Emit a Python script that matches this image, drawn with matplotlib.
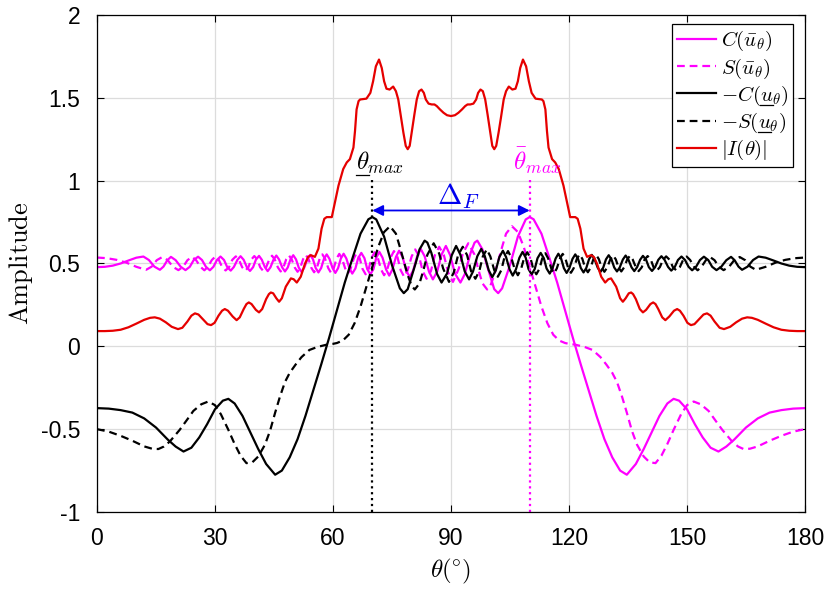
import numpy as np
import matplotlib
matplotlib.use("Agg")
import matplotlib.pyplot as plt
from matplotlib.lines import Line2D

plt.rcParams['font.family'] = ['Liberation Sans', 'DejaVu Sans']
plt.rcParams['mathtext.fontset'] = 'cm'

# -C(u_theta) (black solid)
theta_c = [0, 3, 6, 9, 12, 15, 18, 20, 22, 24,
           26, 28, 30, 32, 33.4, 35, 37, 39, 41, 43,
           45.3, 47, 49, 51, 53, 55, 57, 59, 61, 63,
           65, 67, 69, 70, 71, 73, 75, 77, 78, 79,
           81, 82, 83.3, 84, 85, 86.5, 87.6, 89, 90.2,
           91.3, 92.4, 93.5, 94.6, 95.6, 96.7, 97.7, 98.6, 99.6, 100.5,
           101.4, 102.3, 103.2, 104.0, 104.9, 105.7, 106.5, 107.4, 108.2, 109.0,
           109.7, 110.5, 111.3, 112.0, 112.8, 113.6, 114.3, 115.1, 115.8, 116.6,
           117.3, 118.0, 118.7, 119.4, 120.1, 120.9, 121.6, 122.3, 123.0, 123.7,
           124.4, 125.1, 125.8, 126.5, 127.3, 128.0, 128.7, 129.4, 130.1, 130.8,
           131.5, 132.2, 132.9, 133.7, 134.4, 135.1, 135.9, 136.6, 137.3, 138.1,
           138.8, 139.6, 140.3, 141.1, 141.9, 142.7, 143.5, 144.3, 145.2, 146.0,
           146.9, 147.7, 148.6, 149.5, 150.4, 151.3, 152.3, 153.3, 154.3, 155.4,
           156.4, 157.5, 158.7, 160.0, 161.2, 162.1, 163.1, 164.0, 165.4, 166.8,
           168.2, 170, 172, 174, 176, 178, 180]
c_under = [-0.373, -0.376, -0.385, -0.40, -0.435, -0.49, -0.563, -0.605, -0.635, -0.612,
           -0.55, -0.47, -0.38, -0.328, -0.317, -0.345, -0.42, -0.52, -0.62, -0.71,
           -0.775, -0.75, -0.67, -0.56, -0.42, -0.265, -0.11, 0.05, 0.217, 0.385,
           0.535, 0.68, 0.767, 0.78, 0.766, 0.662, 0.49, 0.35, 0.321, 0.345,
           0.50, 0.585, 0.638, 0.626, 0.565, 0.435, 0.385, 0.44, 0.55,
           0.606, 0.553, 0.452, 0.404, 0.452, 0.544, 0.588, 0.544, 0.459, 0.418,
           0.459, 0.539, 0.577, 0.539, 0.464, 0.427, 0.464, 0.535, 0.570, 0.535,
           0.467, 0.434, 0.467, 0.532, 0.564, 0.532, 0.470, 0.439, 0.470, 0.530,
           0.559, 0.530, 0.472, 0.443, 0.472, 0.528, 0.555, 0.528, 0.473, 0.446,
           0.473, 0.526, 0.552, 0.526, 0.475, 0.449, 0.475, 0.525, 0.550, 0.525,
           0.476, 0.452, 0.476, 0.524, 0.548, 0.524, 0.477, 0.454, 0.477, 0.523,
           0.546, 0.523, 0.478, 0.455, 0.478, 0.522, 0.544, 0.522, 0.479, 0.457,
           0.479, 0.521, 0.542, 0.521, 0.480, 0.459, 0.480, 0.521, 0.541, 0.521,
           0.480, 0.460, 0.480, 0.520, 0.540, 0.520, 0.481, 0.462, 0.481, 0.521,
           0.542, 0.535, 0.518, 0.500, 0.487, 0.480, 0.478]

# -S(u_theta) (black dashed)
theta_s = [0, 3, 6, 9, 12, 14, 15.6, 17, 18.5, 21,
           23, 24.5, 26.5, 28.3, 30, 31.5, 33.4, 35, 36.5, 38,
           39.5, 41, 42.7, 44, 45.3, 46.5, 47.8, 49, 50.5, 52,
           54, 56, 58.4, 60, 61, 62.5, 64, 65.5, 67, 68.5,
           70, 71.5, 73, 74.5, 76, 77, 78, 79, 80, 80.8,
           82, 83, 84, 85.6, 87, 88, 89.5, 90.7, 91.8,
           93.0, 94.1, 95.1, 96.2, 97.2, 98.1, 99.1, 100.0, 101.0, 101.9,
           102.8, 103.6, 104.5, 105.3, 106.2, 107.0, 107.8, 108.6, 109.4, 110.2,
           110.9, 111.7, 112.5, 113.2, 114.0, 114.7, 115.5, 116.2, 116.9, 117.7,
           118.4, 119.1, 119.8, 120.5, 121.2, 122.0, 122.7, 123.4, 124.1, 124.8,
           125.5, 126.2, 126.9, 127.6, 128.3, 129.0, 129.7, 130.5, 131.2, 131.9,
           132.6, 133.3, 134.0, 134.8, 135.5, 136.2, 137.0, 137.7, 138.5, 139.2,
           140.0, 140.8, 141.5, 142.3, 143.1, 143.9, 144.7, 145.6, 146.4, 147.3,
           148.2, 149.0, 149.9, 150.8, 151.8, 152.7, 153.7, 154.8, 155.8, 157.0,
           158.1, 159.3, 160.7, 162.0, 163.4, 164.8, 166.1, 167.5, 170, 172.5,
           175, 177.5, 180]
s_under = [-0.50, -0.515, -0.54, -0.57, -0.604, -0.618, -0.62, -0.605, -0.575, -0.505,
           -0.44, -0.39, -0.35, -0.333, -0.355, -0.41, -0.504, -0.59, -0.66, -0.705,
           -0.70, -0.665, -0.594, -0.51, -0.40, -0.305, -0.215, -0.16, -0.11, -0.065,
           -0.022, -0.004, 0.01, 0.015, 0.02, 0.035, 0.07, 0.14, 0.24, 0.36,
           0.48, 0.60, 0.69, 0.725, 0.68, 0.60, 0.516, 0.43, 0.365, 0.343,
           0.38, 0.46, 0.553, 0.622, 0.56, 0.47, 0.389, 0.445, 0.550,
           0.601, 0.550, 0.454, 0.408, 0.454, 0.543, 0.585, 0.543, 0.460, 0.420,
           0.460, 0.538, 0.575, 0.538, 0.465, 0.429, 0.465, 0.534, 0.568, 0.534,
           0.468, 0.435, 0.468, 0.531, 0.562, 0.531, 0.470, 0.440, 0.470, 0.529,
           0.558, 0.529, 0.472, 0.444, 0.472, 0.528, 0.555, 0.528, 0.474, 0.447,
           0.474, 0.526, 0.552, 0.526, 0.475, 0.450, 0.475, 0.525, 0.549, 0.525,
           0.476, 0.452, 0.476, 0.524, 0.547, 0.524, 0.477, 0.454, 0.477, 0.523,
           0.545, 0.523, 0.478, 0.456, 0.478, 0.522, 0.543, 0.522, 0.479, 0.458,
           0.479, 0.521, 0.542, 0.521, 0.480, 0.459, 0.480, 0.520, 0.540, 0.520,
           0.480, 0.460, 0.480, 0.520, 0.539, 0.520, 0.481, 0.462, 0.480, 0.505,
           0.522, 0.532, 0.536]

# |I(theta)| for 0..90 deg (the curve is symmetric about 90 deg)
theta_r = [0, 2, 4, 6, 8, 10, 12, 13.5, 14.7, 16,
           17.5, 19, 20.6, 21.7, 23, 24, 24.9, 25.8, 27, 28.1,
           29, 29.9, 30.9, 31.8, 32.5, 33.3, 34.5, 35.5, 36.3, 37.3,
           38.0, 38.6, 39.3, 40.4, 41.2, 42.0, 43.0, 43.7, 44.2, 44.8,
           45.6, 46.3, 47.0, 48.0, 49.3, 50.0, 50.8, 51.8, 52.9, 53.7,
           54.4, 55.4, 56.3, 57.1, 57.8, 58.4, 59.7, 60.5, 61.4, 62.6,
           63.5, 64.3, 65.2, 65.6, 66.0, 66.5, 66.9, 68.5, 69.5, 70.2,
           70.9, 71.7, 72.4, 73.0, 73.6, 74.4, 75.3, 76.0, 76.6, 77.3,
           77.9, 78.5, 79.0, 79.5, 80.0, 80.7, 81.3, 81.9, 82.5, 83.1,
           83.6, 84.3, 85.1, 85.8, 86.4, 87.2, 88.1, 89, 90]
amp_r = [0.092, 0.092, 0.094, 0.100, 0.115, 0.137, 0.160, 0.172, 0.175, 0.167,
         0.145, 0.118, 0.104, 0.112, 0.150, 0.185, 0.199, 0.192, 0.162, 0.134,
         0.128, 0.142, 0.185, 0.215, 0.225, 0.215, 0.180, 0.158, 0.175, 0.225,
         0.255, 0.265, 0.255, 0.220, 0.205, 0.225, 0.285, 0.315, 0.325, 0.320,
         0.290, 0.269, 0.290, 0.360, 0.410, 0.405, 0.385, 0.420, 0.500, 0.540,
         0.550, 0.540, 0.590, 0.710, 0.770, 0.780, 0.780, 0.870, 0.970, 1.070,
         1.110, 1.130, 1.200, 1.300, 1.430, 1.480, 1.490, 1.495, 1.530, 1.600,
         1.690, 1.731, 1.680, 1.600, 1.555, 1.550, 1.568, 1.540, 1.490, 1.380,
         1.290, 1.210, 1.190, 1.210, 1.290, 1.400, 1.490, 1.540, 1.550, 1.530,
         1.490, 1.465, 1.460, 1.460, 1.450, 1.430, 1.410, 1.395, 1.390]

theta_max_under = 70
theta_max_bar = 110
arrow_level = 0.82

# C(u_bar), S(u_bar) are the mirror images of the black curves about 90 deg
theta_cb = 180 - np.array(theta_c)[::-1]
c_bar = np.array(c_under)[::-1]
theta_sb = 180 - np.array(theta_s)[::-1]
s_bar = np.array(s_under)[::-1]
theta_I = np.concatenate([theta_r, 180 - np.array(theta_r)[-2::-1]])
amp_I = np.concatenate([amp_r, np.array(amp_r)[-2::-1]])

mag = '#ff00ff'
red = '#e60000'
blue = '#0000ee'

fig = plt.figure(figsize=(8.31, 5.95), dpi=100)
ax = fig.add_axes([0.1167, 0.1395, 0.852, 0.8353])

lw = 1.6
dash = (0, (3.5, 2.2))
ax.plot(theta_cb, c_bar, color=mag, lw=lw, label=r'$C(\bar{u}_\theta)$')
ax.plot(theta_sb, s_bar, color=mag, lw=lw, ls=dash, label=r'$S(\bar{u}_\theta)$')
ax.plot(theta_c, c_under, color='k', lw=lw, label=r'$-C(u_\theta)$')
ax.plot(theta_s, s_under, color='k', lw=lw, ls=dash, label=r'$-S(u_\theta)$')
ax.plot(theta_I, amp_I, color=red, lw=lw, label=r'$|I(\theta)|$')

ax.vlines(theta_max_under, -1, 1.02, colors='k', linestyles=':', lw=1.6)
ax.vlines(theta_max_bar, -1, 1.02, colors=mag, linestyles=':', lw=1.6)
ax.annotate('', xy=(theta_max_bar, arrow_level), xytext=(theta_max_under, arrow_level),
            arrowprops=dict(arrowstyle='<|-|>', color=blue, lw=1.3,
                            mutation_scale=16, shrinkA=0, shrinkB=0))
ax.text(91.8, 0.815, r'$\Delta_F$', color=blue, fontsize=21, ha='center', va='bottom')
t_under = ax.text(65.8, 1.03, r'$\theta_{max}$', color='k', fontsize=18, ha='left', va='bottom')
ax.text(105.8, 1.03, r'$\bar{\theta}_{max}$', color=mag, fontsize=18, ha='left', va='bottom')

ax.set_xlim(0, 180)
ax.set_ylim(-1, 2)
ax.set_xticks(range(0, 181, 30))
ax.set_yticks([-1, -0.5, 0, 0.5, 1, 1.5, 2])
ax.set_yticklabels(['-1', '-0.5', '0', '0.5', '1', '1.5', '2'])
ax.tick_params(direction='in', top=True, right=True, labelsize=16.5, length=5, width=0.8)
ax.tick_params(axis='x', pad=11)
ax.tick_params(axis='y', pad=12)
ax.grid(True, color='#dcdcdc', lw=0.9)
ax.set_axisbelow(True)
for sp in ax.spines.values():
    sp.set_linewidth(0.9)

ax.set_xlabel(r'$\theta(\!^\circ\!)$', fontsize=18, labelpad=5)
ax.set_ylabel(r'$\mathrm{Amplitude}$', fontsize=19, labelpad=4)

leg = ax.legend(loc='upper right', bbox_to_anchor=(0.983, 0.982), borderaxespad=0,
                fancybox=False, edgecolor='k', framealpha=1, fontsize=15,
                handlelength=1.9, handletextpad=0.2, labelspacing=0.15, borderpad=0.25)
leg.get_frame().set_linewidth(0.9)

# mathtext has no \underline, so draw the bars by hand
fig.canvas.draw()
rend = fig.canvas.get_renderer()


def text_width(s, size):
    tmp = fig.text(0, 0, s, fontsize=size)
    w = tmp.get_window_extent(rend).width
    tmp.remove()
    return w


def add_underline(txt, before, upto, color, dy):
    bb = txt.get_window_extent(rend)
    size = txt.get_fontsize()
    x1 = bb.x0 + (text_width(before, size) if before else 0)
    x2 = bb.x0 + text_width(upto, size)
    y = bb.y0 + dy
    W, H = fig.bbox.width, fig.bbox.height
    fig.add_artist(Line2D([x1 / W, x2 / W], [y / H, y / H], color=color, lw=0.9,
                          transform=fig.transFigure))


texts = leg.get_texts()
add_underline(texts[2], r'$-C($', r'$-C(u$', 'k', 3)
add_underline(texts[3], r'$-S($', r'$-S(u$', 'k', 3)
add_underline(t_under, None, r'$\theta$', 'k', 1)

fig.savefig('out.png', dpi=100)
